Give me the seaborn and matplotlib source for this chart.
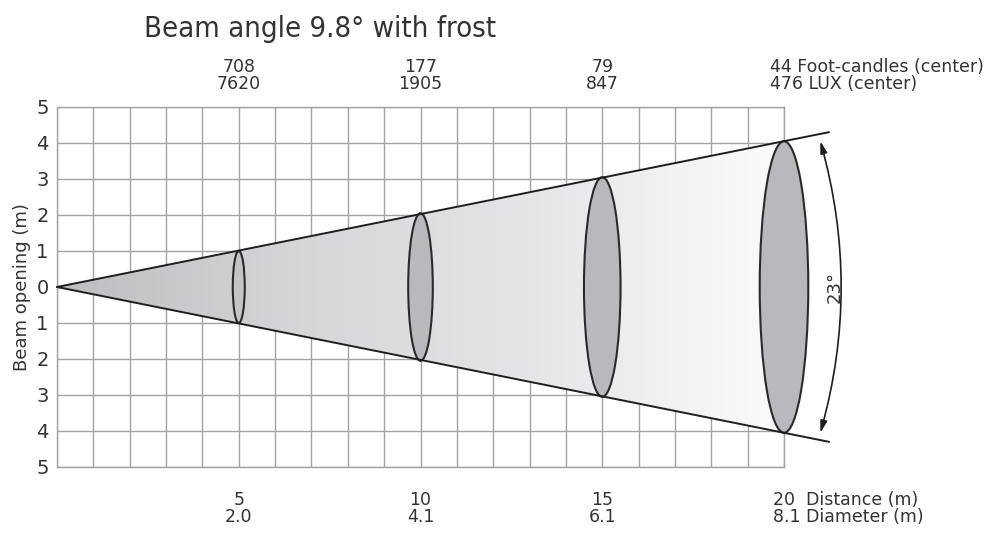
import matplotlib
matplotlib.use("Agg")
import matplotlib.pyplot as plt
import numpy as np
import seaborn as sns
from matplotlib.patches import Ellipse, Polygon, FancyArrowPatch
from matplotlib.colors import LinearSegmentedColormap

# данные диаграммы луча
beam_angle = 9.8
field_angle = 23
distances = [5, 10, 15, 20]            # дистанция, м
diameters = [2.0, 4.1, 6.1, 8.1]       # диаметр пятна, м
foot_candles = [708, 177, 79, 44]
lux = [7620, 1905, 847, 476]
y_ticks = [-5, -4, -3, -2, -1, 0, 1, 2, 3, 4, 5]

sns.set_style("whitegrid")
plt.rcParams['font.family'] = ['DejaVu Sans']

fig = plt.figure(figsize=(9.93, 5.36), dpi=100)
ax = fig.add_axes([57 / 993, 1 - 467 / 536, (784 - 57) / 993, (467 - 107) / 536])

grid_c = '#a3a3a3'
txt_c = '#333333'
ax.set_xlim(0, 20)
ax.set_ylim(-5, 5)
ax.set_xticks(range(0, 21))
ax.set_xticklabels([])
ax.set_yticks(y_ticks)
ax.set_yticklabels([str(abs(v)) for v in y_ticks], fontsize=14, color=txt_c)
ax.tick_params(length=0, pad=6)
ax.grid(True, color=grid_c, lw=1.0)
for s in ax.spines.values():
    s.set_color(grid_c)
    s.set_linewidth(1.0)
ax.set_ylabel('Beam opening (m)', fontsize=13, color=txt_c, labelpad=4)

# конус луча: угол наклона по последнему диаметру
d_max = distances[-1]
slope = diameters[-1] / 2 / d_max
x_end = d_max * 1.062

# градиентная заливка конуса
cone = Polygon([[0, 0], [d_max, slope * d_max], [d_max, -slope * d_max]],
               closed=True, facecolor='none', edgecolor='none')
ax.add_patch(cone)
cmap = LinearSegmentedColormap.from_list('beam', ['#bdbdc0', '#d6d6d8', '#e6e6e8', '#fbfbfb'])
grad = np.linspace(0, 1, 256).reshape(1, -1)
img = ax.imshow(grad, extent=[0, d_max, -5, 5], cmap=cmap, vmin=0, vmax=1,
                aspect='auto', zorder=2)
img.set_clip_path(cone)

# пятна
for d, dia in zip(distances, diameters):
    h = dia / 2
    fc = '#c4c4c6' if d == distances[0] else '#b9b9bd'
    ax.add_patch(Ellipse((d, 0), width=0.33 * h, height=dia, facecolor=fc,
                         edgecolor='#2a2a2a', lw=1.5, zorder=4, clip_on=False))

# края конуса
for sgn in (1, -1):
    sns.lineplot(x=[0, x_end], y=[0, sgn * slope * x_end], ax=ax, color='#1e1e1e',
                 lw=1.4, zorder=5, clip_on=False)

# дуга угла раскрытия
pA = (21.0, 4.05)
pB = (21.0, -4.05)
arc = FancyArrowPatch(pA, pB, connectionstyle='arc3,rad=-0.14',
                      arrowstyle='<|-|>,head_length=7,head_width=2',
                      color='#1e1e1e', lw=1.2, zorder=6, clip_on=False,
                      shrinkA=0, shrinkB=0)
ax.add_patch(arc)
ax.text(21.4, 0, f'{field_angle}°', rotation=90, ha='center', va='center',
        fontsize=13, color=txt_c, clip_on=False)

# подписи сверху и снизу
fs = 12.5
for i, d in enumerate(distances):
    if i < len(distances) - 1:
        ax.text(d, 5.88, f'{foot_candles[i]}\n{lux[i]}', ha='center', va='center',
                fontsize=fs, color=txt_c, linespacing=0.92, clip_on=False)
        ax.text(d, -6.15, f'{d}\n{diameters[i]:.1f}', ha='center', va='center',
                fontsize=fs, color=txt_c, linespacing=0.92, clip_on=False)
    else:
        ax.text(d - 0.38, 5.88, f'{foot_candles[i]} Foot-candles (center)\n{lux[i]} LUX (center)',
                ha='left', va='center', fontsize=fs, color=txt_c, linespacing=0.92,
                clip_on=False)
        ax.text(d - 0.3, -6.15, f'{d}  Distance (m)\n{diameters[i]:.1f} Diameter (m)',
                ha='left', va='center', fontsize=fs, color=txt_c, linespacing=0.92,
                clip_on=False)

fig.text(0.322, 0.945, f'Beam angle {beam_angle}° with frost', ha='center', va='center',
         fontsize=21, color=txt_c, fontstretch='condensed')

fig.savefig('out.png', dpi=100)
